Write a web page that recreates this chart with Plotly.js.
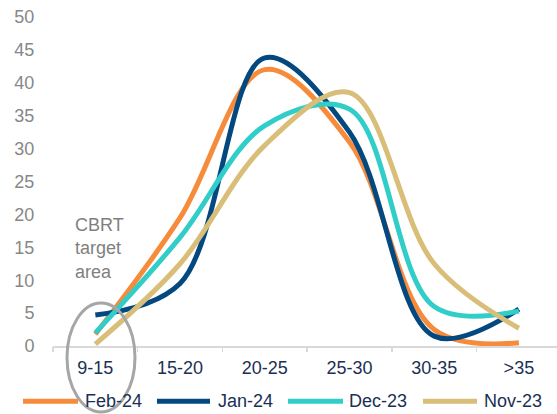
<!DOCTYPE html>
<html>
<head>
<meta charset="utf-8">
<script src="https://cdn.plot.ly/plotly-3.0.1.min.js"></script>
<style>html,body{margin:0;padding:0;background:#fff;}#chart{width:557px;height:414px;}</style>
</head>
<body>
<div id="chart"></div>
<script>
const categories = ["9-15", "15-20", "20-25", "25-30", "30-35", ">35"];
const seriesNames = ["Feb-24", "Jan-24", "Dec-23", "Nov-23"];
const feb24 = [1.8, 19.5, 42, 31, 2.5, 0.5];
const jan24 = [4.7, 9.5, 43.8, 32.5, 1.5, 5.6];
const dec23 = [2.0, 16.5, 33.5, 36, 6.0, 5.3];
const nov23 = [0.3, 12.5, 30.5, 38.5, 12.5, 2.7];
const colors = ["#F68B3C", "#03487F", "#31CDC9", "#D8BE78"];
const yTicks = [0, 5, 10, 15, 20, 25, 30, 35, 40, 45, 50];

const values = [feb24, jan24, dec23, nov23];
const data = values.map((v, i) => ({
  type: "scatter",
  mode: "lines",
  x: categories.map((c, k) => k),
  y: v,
  name: seriesNames[i],
  line: {color: colors[i], width: 5, shape: "spline", smoothing: 1},
  showlegend: false,
  hoverinfo: "skip"
}));

// custom legend (long line samples like the reference)
const legLine0 = [-0.0595, 0.2063, 0.4663, 0.7341];
const legLine1 = [0.0496, 0.3115, 0.5754, 0.8413];
const legText = [0.0615, 0.3254, 0.5853, 0.8532];
const shapes = [];
const annotations = [];
seriesNames.forEach((n, i) => {
  shapes.push({type: "line", xref: "paper", yref: "paper",
    x0: legLine0[i], x1: legLine1[i], y0: -0.168, y1: -0.168,
    line: {color: colors[i], width: 5}});
  annotations.push({xref: "paper", yref: "paper", x: legText[i], y: -0.168,
    xanchor: "left", yanchor: "middle", text: n, showarrow: false, borderpad: 0,
    font: {family: "Liberation Sans, Arial, sans-serif", size: 18, color: "#1B2F55"}});
});
shapes.push({type: "circle", xref: "paper", yref: "paper",
  x0: 0.0278, x1: 0.1627, y0: -0.2006, y1: 0.1307,
  line: {color: "#A6A6A6", width: 3}});
annotations.push({xref: "paper", yref: "paper", x: 0.04, y: 0.405,
  xanchor: "left", yanchor: "top", align: "left", showarrow: false,
  text: "CBRT<br>target<br>area",
  font: {family: "Liberation Sans, Arial, sans-serif", size: 18, color: "#7F7F7F"}});

const layout = {
  width: 557, height: 414,
  margin: {l: 53, r: 0, t: 17, b: 68},
  paper_bgcolor: "#fff", plot_bgcolor: "#fff",
  showlegend: false,
  xaxis: {
    type: "linear", range: [-0.5, 5.45],
    tickmode: "array", tickvals: categories.map((c, k) => k), ticktext: categories,
    showgrid: false, zeroline: false,
    showline: true, linecolor: "#D9D9D9", linewidth: 1.5,
    ticks: "", ticklabelstandoff: 5,
    tickfont: {family: "Liberation Sans, Arial, sans-serif", size: 18, color: "#1B2F55"}
  },
  xaxis2: {
    overlaying: "x", type: "linear", range: [-0.5, 5.45],
    tickmode: "array", tickvals: [-0.5, 0.5, 1.5, 2.5, 3.5, 4.5],
    showticklabels: false, ticks: "outside", ticklen: 5, tickcolor: "#D9D9D9", tickwidth: 1.5,
    showgrid: false, zeroline: false, showline: false, side: "bottom", anchor: "y"
  },
  yaxis: {
    range: [0, 50], tickmode: "array", tickvals: yTicks,
    showgrid: false, zeroline: false, showline: false,
    ticks: "outside", ticklen: 14, tickcolor: "rgba(0,0,0,0)",
    tickfont: {family: "Liberation Sans, Arial, sans-serif", size: 18, color: "#878787"}
  },
  shapes: shapes,
  annotations: annotations
};
data.push({type: "scatter", x: [-0.5], y: [0], xaxis: "x2", yaxis: "y", mode: "markers",
  marker: {opacity: 0}, showlegend: false, hoverinfo: "skip"});
Plotly.newPlot("chart", data, layout, {staticPlot: true, displayModeBar: false});
</script>
</body>
</html>
